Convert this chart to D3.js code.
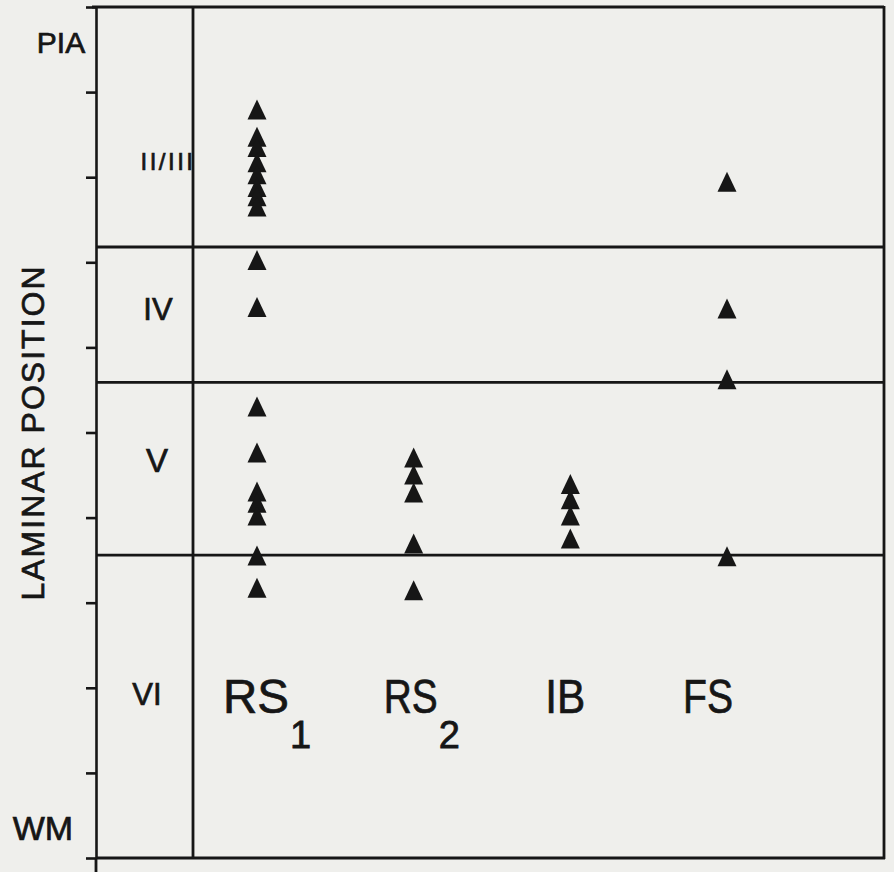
<!DOCTYPE html>
<meta charset="utf-8">
<style>
body {
  margin: 0;
  background: #efefec;
}
svg {
  display: block;
}
.frame line {
  stroke: #161616;
  stroke-width: 2.8px;
}
.axis path,
.axis line {
  stroke: #161616;
  stroke-width: 2.6px;
}
.tri {
  fill: #161616;
}
text {
  font-family: "Liberation Sans", Arial, Helvetica, sans-serif;
  fill: #161616;
  stroke: #161616;
  stroke-width: 0.7px;
}
.cat {
  font-size: 48px;
  stroke-width: 1px;
}
</style>
<body>
<script src="https://cdn.jsdelivr.net/npm/d3@7"></script>
<script>
var width = 894,
    height = 872;

// cell classes along the bottom
var categories = ["RS1", "RS2", "IB", "FS"];
// normalized depth, 0 = pia, 1 = white matter
var rs1Depth = [0.121, 0.153, 0.165, 0.183, 0.197, 0.212, 0.223, 0.235,
                0.298, 0.353,
                0.470, 0.524, 0.570, 0.583, 0.598, 0.645, 0.683];
var rs2Depth = [0.530, 0.550, 0.571, 0.631, 0.686];
var ibDepth = [0.561, 0.579, 0.598, 0.625];
var fsDepth = [0.206, 0.355, 0.438, 0.646];
// layer borders (II/III|IV, IV|V, V|VI)
var layerBounds = [0.282, 0.441, 0.644];
var layerNames = ["PIA", "II/III", "IV", "V", "VI", "WM"];
var axisTitle = "LAMINAR POSITION";

var depthByCat = {RS1: rs1Depth, RS2: rs2Depth, IB: ibDepth, FS: fsDepth};

var left = 96, right = 884, colEdge = 193;

var y = d3.scaleLinear().domain([0, 1]).range([7, 858]);
var x = d3.scalePoint().domain(categories).range([257, 727]);

var svg = d3.select("body").append("svg")
    .attr("width", width)
    .attr("height", height);

var frame = svg.append("g").attr("class", "frame");
frame.append("line").attr("x1", left - 4).attr("x2", right).attr("y1", y(0)).attr("y2", y(0));
frame.append("line").attr("x1", left).attr("x2", right + 1).attr("y1", y(1)).attr("y2", y(1));
frame.append("line").attr("x1", right).attr("x2", right).attr("y1", y(0) - 1).attr("y2", y(1) + 1);
frame.append("line").attr("x1", left).attr("x2", left).attr("y1", y(1)).attr("y2", 872);
frame.append("line").attr("x1", colEdge).attr("x2", colEdge).attr("y1", y(0)).attr("y2", y(1));
frame.selectAll(".bound")
    .data(layerBounds)
  .enter().append("line")
    .attr("class", "bound")
    .attr("x1", left)
    .attr("x2", right)
    .attr("y1", function(d) { return y(d); })
    .attr("y2", function(d) { return y(d); });

svg.append("g")
    .attr("class", "axis")
    .attr("transform", "translate(" + left + ",0)")
    .call(d3.axisLeft(y)
      .tickValues(d3.range(0, 11).map(function(i) { return i / 10; }))
      .tickSize(10)
      .tickSizeOuter(0)
      .tickFormat(""));

// y title
svg.append("text")
    .attr("transform", "translate(44," + y(0.5) + ") rotate(-90)")
    .attr("text-anchor", "middle")
    .style("font-size", "32px")
    .style("letter-spacing", "2px")
    .text(axisTitle);

// layer names: x, baseline depth, font size
var layerLayout = [
  [61, 0.054, 30],
  [168, 0.192, 24],
  [158, 0.368, 31],
  [157, 0.546, 33],
  [147, 0.82, 31],
  [43, 0.979, 34]
];
svg.selectAll(".layer")
    .data(layerNames)
  .enter().append("text")
    .attr("class", "layer")
    .attr("text-anchor", "middle")
    .attr("x", function(d, i) { return layerLayout[i][0]; })
    .attr("y", function(d, i) { return y(layerLayout[i][1]); })
    .style("font-size", function(d, i) { return layerLayout[i][2] + "px"; })
    .style("letter-spacing", function(d) { return d === "II/III" ? "2.5px" : null; })
    .text(function(d) { return d; });

// points
var pts = [];
categories.forEach(function(c) {
  depthByCat[c].forEach(function(v) { pts.push({cat: c, depth: v}); });
});
svg.selectAll(".tri")
    .data(pts)
  .enter().append("path")
    .attr("class", "tri")
    .attr("d", function(d) {
      var cx = x(d.cat), cy = y(d.depth);
      return "M" + cx + "," + (cy - 10.5) + "L" + (cx + 9.5) + "," + (cy + 9.5) +
             "L" + (cx - 9.5) + "," + (cy + 9.5) + "Z";
    });

// category labels, squeezed horizontally to the scanned widths
var labelShift = [-34, -30, -25, -44];
var labelWidth = [66, 54, 40, 50];
var cats = svg.selectAll(".cat")
    .data(categories)
  .enter().append("g")
    .attr("class", "cat");
cats.append("text")
    .text(function(d) { return d.replace(/\d$/, ""); })
    .attr("transform", function(d, i) {
      var w = this.getComputedTextLength(),
          sx = Math.min(1, labelWidth[i] / w);
      return "translate(" + (x(d) + labelShift[i]) + ",713) scale(" + sx + ",1)";
    });
cats.filter(function(d) { return /\d$/.test(d); })
  .append("text")
    .attr("x", function(d) {
      var i = categories.indexOf(d);
      return x(d) + labelShift[i] + labelWidth[i] + 1;
    })
    .attr("y", 748)
    .style("font-size", "38px")
    .style("stroke-width", "0.8px")
    .text(function(d) { return d.slice(-1); });
</script>
